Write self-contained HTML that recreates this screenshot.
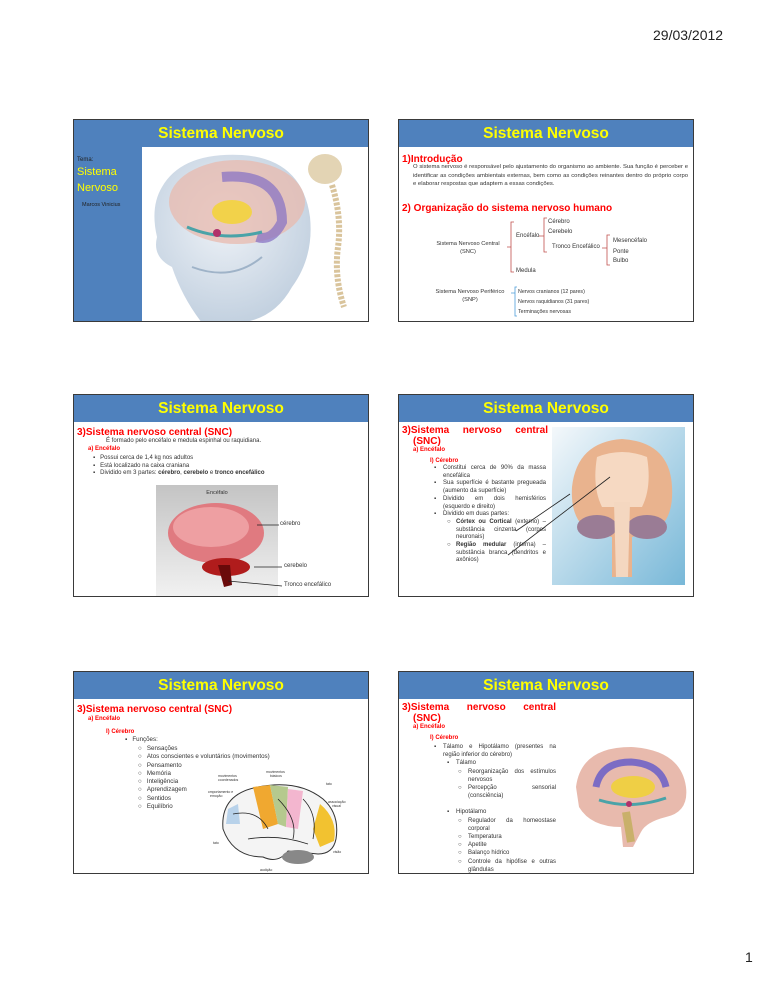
<!DOCTYPE html>
<html><head><meta charset="utf-8">
<style>
*{margin:0;padding:0;box-sizing:border-box}
body{width:768px;height:994px;background:#fff;position:relative;overflow:hidden;font-family:"Liberation Sans",sans-serif;color:#333}
.s{position:absolute;width:296px;height:203px;border:1.5px solid #3a3a3a;background:#fff;overflow:hidden}
.h{position:absolute;left:0;top:0;width:100%;height:27px;background:#4f81bd;color:#ffff00;font-weight:bold;font-size:15.5px;text-align:center;line-height:27px}
.t{position:absolute;white-space:nowrap;font-size:6px;line-height:7.7px;color:#333}
.r{color:#ff0000;font-weight:bold}
.a{position:absolute}
.j{text-align:justify;white-space:normal}
</style></head><body>
<div class="t" style="left:653px;top:27px;font-size:14px;line-height:16px;color:#222">29/03/2012</div>
<div class="t" style="left:745px;top:949px;font-size:14px;line-height:16px;color:#222">1</div>

<!-- Slide 1 -->
<div class="s" style="left:73px;top:119px">
 <div class="h">Sistema Nervoso</div>
 <div class="a" style="left:0;top:27px;width:68px;height:176px;background:#4f81bd"></div>
 <div class="t" style="left:3px;top:37px;font-size:6px;color:#222">Tema:</div>
 <div class="t" style="left:3px;top:44px;font-size:11px;line-height:16px;color:#ffff00">Sistema<br>Nervoso</div>
 <div class="t" style="left:8px;top:82px;font-size:5.5px;color:#222">Marcos Vinicius</div>
 <svg class="a" style="left:68px;top:27px" width="228" height="176">
  <defs><radialGradient id="hd" cx="45%" cy="40%" r="60%"><stop offset="0" stop-color="#eef2f7"/><stop offset="1" stop-color="#c3d1e0"/></radialGradient></defs>
  <path d="M20 40 Q40 5 100 8 Q160 12 168 70 Q172 110 150 140 Q130 176 90 176 L60 176 Q40 150 30 120 Q10 110 15 90 Q8 60 20 40Z" fill="url(#hd)"/>
  <ellipse cx="95" cy="55" rx="68" ry="42" fill="#e8b9ad" opacity=".75"/>
  <path d="M80 30 Q140 25 140 75 Q130 95 115 90" stroke="#8a74c4" stroke-width="10" fill="none" opacity=".75"/>
  <ellipse cx="90" cy="65" rx="20" ry="12" fill="#f2d24a"/>
  <path d="M45 80 Q80 95 120 85" stroke="#4aa3a8" stroke-width="3" fill="none"/>
  <circle cx="75" cy="86" r="4" fill="#b0306a"/>
  <path d="M50 120 Q90 135 120 110" stroke="#9fb3c8" stroke-width="2" fill="none"/>
  <ellipse cx="183" cy="22" rx="17" ry="15" fill="#e3d4b4"/>
  <path d="M190 38 Q200 70 196 100 Q192 130 202 160" stroke="#d9c49c" stroke-width="6" fill="none" stroke-dasharray="3 1.5"/>
 </svg>
</div>

<!-- Slide 2 -->
<div class="s" style="left:398px;top:119px">
 <div class="h">Sistema Nervoso</div>
 <div class="t r" style="left:3px;top:34px;font-size:10px;line-height:11px">1)Introdução</div>
 <div class="t j" style="left:14px;top:43px;width:275px;font-size:5.9px;line-height:8.5px">O sistema nervoso é responsável pelo ajustamento do organismo ao ambiente. Sua função é perceber e identificar as condições ambientais externas, bem como as condições reinantes dentro do próprio corpo e elaborar respostas que adaptem a essas condições.</div>
 <div class="t r" style="left:3px;top:83px;font-size:10px;line-height:11px">2) Organização do sistema nervoso humano</div>
 <div class="t" style="left:149px;top:99px">Cérebro</div>
 <div class="t" style="left:149px;top:109px">Cerebelo</div>
 <div class="t" style="left:117px;top:113px">Encéfalo</div>
 <div class="t" style="left:34px;top:121px;text-align:center;width:70px;font-size:5.7px">Sistema Nervoso Central<br>(SNC)</div>
 <div class="t" style="left:153px;top:124px">Tronco Encefálico</div>
 <div class="t" style="left:214px;top:118px">Mesencéfalo</div>
 <div class="t" style="left:214px;top:129px">Ponte</div>
 <div class="t" style="left:214px;top:138px">Bulbo</div>
 <div class="t" style="left:117px;top:148px">Medula</div>
 <div class="t" style="left:32px;top:169px;text-align:center;width:78px;font-size:5.7px">Sistema Nervoso Periférico<br>(SNP)</div>
 <div class="t" style="left:119px;top:169px;font-size:5.3px">Nervos cranianos (12 pares)</div>
 <div class="t" style="left:119px;top:179px;font-size:5.3px">Nervos raquidianos (31 pares)</div>
 <div class="t" style="left:119px;top:189px;font-size:5.3px">Terminações nervosas</div>
 <svg class="a" style="left:0;top:0" width="296" height="203" fill="none" stroke-width=".8">
  <path d="M115 102 H112 V152 H115 M108 127 H112" stroke="#c0504d"/>
  <path d="M148 98 H145 V132 H148 M140 116 H145" stroke="#c0504d"/>
  <path d="M211 115 H208 V145 H211 M203 128 H208" stroke="#c0504d"/>
  <path d="M118 167 H116 V196 H118 M112 173 H116" stroke="#4f9fd9"/>
 </svg>
</div>

<!-- Slide 3 -->
<div class="s" style="left:73px;top:394px">
 <div class="h">Sistema Nervoso</div>
 <div class="t r" style="left:3px;top:32px;font-size:10px;line-height:11px">3)Sistema nervoso central (SNC)</div>
 <div class="t" style="left:32px;top:43px">É formado pelo encéfalo e medula espinhal ou raquidiana.</div>
 <div class="t r" style="left:14px;top:51px">a) Encéfalo</div>
 <div class="t" style="left:19px;top:60px">▪&nbsp;&nbsp;&nbsp;Possui cerca de 1,4 kg nos adultos<br>▪&nbsp;&nbsp;&nbsp;Está localizado na caixa craniana<br>▪&nbsp;&nbsp;&nbsp;Dividido em 3 partes: <b>cérebro</b>, <b>cerebelo</b> e <b>tronco encefálico</b></div>
 <svg class="a" style="left:82px;top:90px" width="122" height="113">
  <defs><linearGradient id="gb" x1="0" y1="0" x2="0" y2="1"><stop offset="0" stop-color="#c4c4c4"/><stop offset="1" stop-color="#f2f2f2"/></linearGradient></defs>
  <rect width="122" height="113" fill="url(#gb)"/>
  <text x="61" y="9" font-size="5.5" text-anchor="middle" fill="#333" font-family="Liberation Sans">Encéfalo</text>
  <ellipse cx="60" cy="48" rx="48" ry="30" fill="#e07a80"/>
  <ellipse cx="55" cy="42" rx="38" ry="20" fill="#ee9fa2"/>
  <ellipse cx="70" cy="82" rx="24" ry="9" fill="#b01c1c"/>
  <path d="M62 80 L68 102 L76 100 L74 80Z" fill="#6a0a0a"/>
 </svg>
 <svg class="a" style="left:0;top:0" width="296" height="203" stroke="#222" stroke-width=".8">
  <line x1="183" y1="130" x2="205" y2="130"/><line x1="180" y1="172" x2="208" y2="172"/><line x1="154" y1="186" x2="208" y2="191"/>
 </svg>
 <div class="t" style="left:206px;top:126px">cérebro</div>
 <div class="t" style="left:210px;top:168px">cerebelo</div>
 <div class="t" style="left:210px;top:187px">Tronco encefálico</div>
</div>

<!-- Slide 4 -->
<div class="s" style="left:398px;top:394px">
 <div class="h">Sistema Nervoso</div>
 <div class="t r" style="left:3px;top:30px;width:146px;font-size:10px;line-height:11px;white-space:normal;text-align:justify;text-align-last:justify">3)Sistema nervoso central</div>
 <div class="t r" style="left:14px;top:41px;font-size:10px;line-height:11px">(SNC)</div>
 <div class="t r" style="left:14px;top:52px">a) Encéfalo</div>
 <div class="t r" style="left:31px;top:63px">I) Cérebro</div>
 <div class="t j" style="left:35px;top:70px;width:112px">
  <div style="display:flex"><span style="width:9px">▪</span><span style="flex:1;text-align:justify">Constitui cerca de 90% da massa encefálica</span></div>
  <div style="display:flex"><span style="width:9px">▪</span><span style="flex:1;text-align:justify">Sua superfície é bastante pregueada (aumento da superfície)</span></div>
  <div style="display:flex"><span style="width:9px">▪</span><span style="flex:1;text-align:justify">Dividido em dois hemisférios (esquerdo e direito)</span></div>
  <div style="display:flex"><span style="width:9px">▪</span><span style="flex:1">Dividido em duas partes:</span></div>
  <div style="display:flex;padding-left:13px"><span style="width:9px">○</span><span style="flex:1;text-align:justify"><b>Córtex ou Cortical</b> (externo) – substância cinzenta (corpos neuronais)</span></div>
  <div style="display:flex;padding-left:13px"><span style="width:9px">○</span><span style="flex:1;text-align:justify"><b>Região medular</b> (interna) – substância branca (dendritos e axônios)</span></div>
 </div>
 <svg class="a" style="left:153px;top:32px" width="133" height="158">
  <defs><linearGradient id="bl" x1="0" y1="0" x2="1" y2="1"><stop offset="0" stop-color="#f4f8fb"/><stop offset="1" stop-color="#78b8d8"/></linearGradient></defs>
  <rect width="133" height="158" fill="url(#bl)"/>
  <path d="M20 60 Q25 15 70 12 Q118 15 120 60 Q122 95 100 105 L80 110 L80 150 L60 150 L60 110 L40 105 Q18 95 20 60Z" fill="#e9b38e"/>
  <path d="M45 30 Q70 20 95 30 Q100 60 90 80 L50 80 Q40 60 45 30Z" fill="#f6d9c2"/>
  <ellipse cx="45" cy="100" rx="20" ry="12" fill="#9a7c95"/>
  <ellipse cx="95" cy="100" rx="20" ry="12" fill="#9a7c95"/>
  <path d="M62 75 L78 75 L76 150 L64 150Z" fill="#f4d7c0"/>
 </svg>
 <svg class="a" style="left:0;top:0" width="296" height="203" stroke="#222" stroke-width=".8">
  <line x1="117" y1="136" x2="171" y2="99"/><line x1="109" y1="160" x2="211" y2="82"/>
 </svg>
</div>

<!-- Slide 5 -->
<div class="s" style="left:73px;top:671px">
 <div class="h">Sistema Nervoso</div>
 <div class="t r" style="left:3px;top:32px;font-size:10px;line-height:11px">3)Sistema nervoso central (SNC)</div>
 <div class="t r" style="left:14px;top:44px">a) Encéfalo</div>
 <div class="t r" style="left:32px;top:57px">I) Cérebro</div>
 <div class="t" style="left:51px;top:64px;font-size:6.2px;line-height:8.3px">▪&nbsp;&nbsp;&nbsp;Funções:</div>
 <div class="t" style="left:64px;top:73px;font-size:6.2px;line-height:8.3px">○&nbsp;&nbsp;&nbsp;Sensações<br>○&nbsp;&nbsp;&nbsp;Atos conscientes e voluntários (movimentos)<br>○&nbsp;&nbsp;&nbsp;Pensamento<br>○&nbsp;&nbsp;&nbsp;Memória<br>○&nbsp;&nbsp;&nbsp;Inteligência<br>○&nbsp;&nbsp;&nbsp;Aprendizagem<br>○&nbsp;&nbsp;&nbsp;Sentidos<br>○&nbsp;&nbsp;&nbsp;Equilíbrio</div>
 <svg class="a" style="left:134px;top:97px" width="140" height="106" font-family="Liberation Sans" font-size="3.5" fill="#333">
  <path d="M15 60 Q12 25 50 18 Q90 10 115 30 Q132 45 128 70 Q125 85 110 85 L80 82 Q70 95 55 88 Q25 88 15 60Z" fill="#f4f4f4" stroke="#333" stroke-width="1"/>
  <path d="M45 18 L62 16 L70 55 L55 60Z" fill="#f0a830"/>
  <path d="M62 16 L80 18 L78 58 L70 55Z" fill="#b5c98e"/>
  <path d="M80 20 L95 22 L90 60 L78 58Z" fill="#f3b6cf"/>
  <path d="M112 35 Q130 50 126 72 L112 78 L105 60Z" fill="#f2c230"/>
  <path d="M20 40 L30 35 L32 55 L18 55Z" fill="#b8d2ea"/>
  <path d="M25 45 Q50 40 60 60 M70 30 Q90 50 85 70 M40 70 Q70 65 100 75 M95 30 Q110 45 105 70" stroke="#222" stroke-width=".8" fill="none"/>
  <ellipse cx="90" cy="88" rx="16" ry="7" fill="#888"/>
  <text x="10" y="8">movimentos</text><text x="10" y="12">coordenados</text>
  <text x="58" y="4">movimentos</text><text x="62" y="8">básicos</text>
  <text x="118" y="16">tato</text>
  <text x="-2" y="24">comportamento e</text><text x="2" y="28">emoção</text>
  <text x="120" y="34">associação</text><text x="124" y="38">visual</text>
  <text x="5" y="75">tato</text><text x="125" y="84">visão</text><text x="52" y="102">audição</text>
 </svg>
</div>

<!-- Slide 6 -->
<div class="s" style="left:398px;top:671px">
 <div class="h">Sistema Nervoso</div>
 <div class="t r" style="left:3px;top:30px;width:154px;font-size:10px;line-height:11px;white-space:normal;text-align:justify;text-align-last:justify">3)Sistema nervoso central</div>
 <div class="t r" style="left:14px;top:41px;font-size:10px;line-height:11px">(SNC)</div>
 <div class="t r" style="left:14px;top:52px">a) Encéfalo</div>
 <div class="t r" style="left:31px;top:63px">I) Cérebro</div>
 <div class="t j" style="left:35px;top:71px;width:122px;line-height:8.2px">
  <div style="display:flex"><span style="width:9px">▪</span><span style="flex:1;text-align:justify">Tálamo e Hipotálamo (presentes na região inferior do cérebro)</span></div>
  <div style="display:flex;padding-left:13px"><span style="width:9px">▪</span><span>Tálamo</span></div>
  <div style="display:flex;padding-left:24px"><span style="width:10px">○</span><span style="flex:1;text-align:justify">Reorganização dos estímulos nervosos</span></div>
  <div style="display:flex;padding-left:24px"><span style="width:10px">○</span><span style="flex:1;text-align:justify">Percepção sensorial (consciência)</span></div>
  <div style="height:8px"></div>
  <div style="display:flex;padding-left:13px"><span style="width:9px">▪</span><span>Hipotálamo</span></div>
  <div style="display:flex;padding-left:24px"><span style="width:10px">○</span><span style="flex:1;text-align:justify">Regulador da homeostase corporal</span></div>
  <div style="display:flex;padding-left:24px"><span style="width:10px">○</span><span>Temperatura</span></div>
  <div style="display:flex;padding-left:24px"><span style="width:10px">○</span><span>Apetite</span></div>
  <div style="display:flex;padding-left:24px"><span style="width:10px">○</span><span>Balanço hídrico</span></div>
  <div style="display:flex;padding-left:24px"><span style="width:10px">○</span><span style="flex:1;text-align:justify">Controle da hipófise e outras glândulas</span></div>
 </div>
 <svg class="a" style="left:172px;top:70px" width="122" height="108">
  <path d="M5 45 Q10 5 60 5 Q110 8 115 45 Q118 70 95 75 Q75 80 70 90 L62 105 L52 105 L50 85 Q20 85 8 65Z" fill="#e5b3a4" opacity=".9"/>
  <path d="M25 45 Q30 20 60 20 Q90 22 95 45" stroke="#7c6cc4" stroke-width="7" fill="none"/>
  <ellipse cx="62" cy="45" rx="22" ry="11" fill="#efcf45"/>
  <path d="M28 58 Q60 68 95 56" stroke="#4aa3a8" stroke-width="3" fill="none"/>
  <circle cx="58" cy="62" r="3" fill="#b0306a"/>
  <path d="M55 70 L60 100" stroke="#c9b06a" stroke-width="8"/>
 </svg>
</div>
</body></html>
